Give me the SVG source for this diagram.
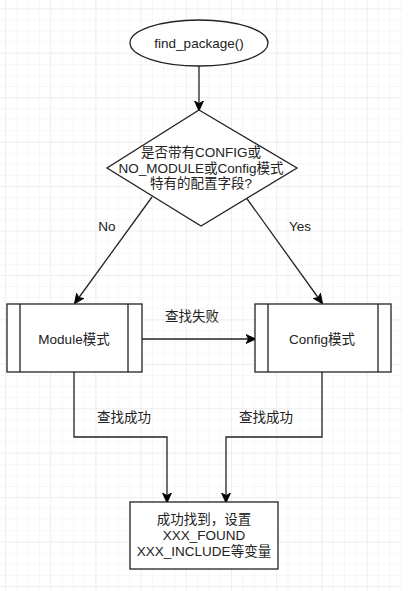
<svg xmlns="http://www.w3.org/2000/svg" width="416" height="591" viewBox="0 0 416 591">
<defs>
<pattern id="gMinor" patternUnits="userSpaceOnUse" x="5" y="8.3" width="11.3" height="11.11">
<path d="M0 0V11.11M0 0H11.3" fill="none" stroke="#f0f0f0" stroke-width="1"/>
</pattern>
<pattern id="gMajor" patternUnits="userSpaceOnUse" x="5" y="8.3" width="45.2" height="44.44">
<path d="M0 0V44.44M0 0H45.2" fill="none" stroke="#e6e6e6" stroke-width="1"/>
</pattern>
<marker id="arr" viewBox="0 0 10 10" refX="9" refY="5" markerWidth="10" markerHeight="10" markerUnits="userSpaceOnUse" orient="auto">
<path d="M0 0.5L10 5L0 9.5L2.5 5Z" fill="#000" stroke="#000" stroke-width="0.8"/>
</marker>
<style>
.t{font-family:"Liberation Sans","Noto Sans CJK SC",sans-serif;font-size:13.5px;fill:#222;text-anchor:middle;dominant-baseline:central}
.s{fill:#fff;stroke:#222;stroke-width:1.3}
.c{fill:none;stroke:#222;stroke-width:1.3;marker-end:url(#arr)}
</style>
</defs>
<rect x="0" y="0" width="402" height="591" fill="#fff"/>
<rect x="0" y="0" width="402" height="591" fill="url(#gMinor)"/>
<rect x="0" y="0" width="402" height="591" fill="url(#gMajor)"/>
<rect x="402" y="0" width="14" height="591" fill="#fff"/>

<g id="connectors">
<path class="c" d="M199 66V110"/>
<path class="c" d="M152 197L75 303"/>
<path class="c" d="M245 196L322 303"/>
<path class="c" d="M142 339H255"/>
<path class="c" d="M74 372V437H167V502"/>
<path class="c" d="M322 372V437H226V502"/>
<text class="t" x="107" y="226">No</text>
<text class="t" x="300" y="226">Yes</text>
<text class="t" x="192" y="316">查找失败</text>
<text class="t" x="124" y="417">查找成功</text>
<text class="t" x="266" y="417">查找成功</text>
</g>

<g id="start">
<ellipse class="s" cx="199" cy="43" rx="69" ry="23"/>
<text class="t" x="199" y="43">find_package()</text>
</g>

<g id="decision">
<path class="s" d="M199 110L297 168L201 226L107 168Z"/>
<text class="t" x="201" y="152">是否带有CONFIG或</text>
<text class="t" x="201" y="168">NO_MODULE或Config模式</text>
<text class="t" x="201" y="183">特有的配置字段?</text>
</g>

<g id="module">
<rect class="s" x="7" y="304" width="135" height="68"/>
<path d="M20 304V372M128 304V372" stroke="#222" stroke-width="1.3"/>
<text class="t" x="74" y="339">Module模式</text>
</g>

<g id="config">
<rect class="s" x="255" y="304" width="136" height="68"/>
<path d="M268 304V372M378 304V372" stroke="#222" stroke-width="1.3"/>
<text class="t" x="322" y="339">Config模式</text>
</g>

<g id="result">
<rect class="s" x="130" y="502" width="148" height="67"/>
<text class="t" x="204" y="519">成功找到，设置</text>
<text class="t" x="204" y="535">XXX_FOUND</text>
<text class="t" x="204" y="551">XXX_INCLUDE等变量</text>
</g>
</svg>
